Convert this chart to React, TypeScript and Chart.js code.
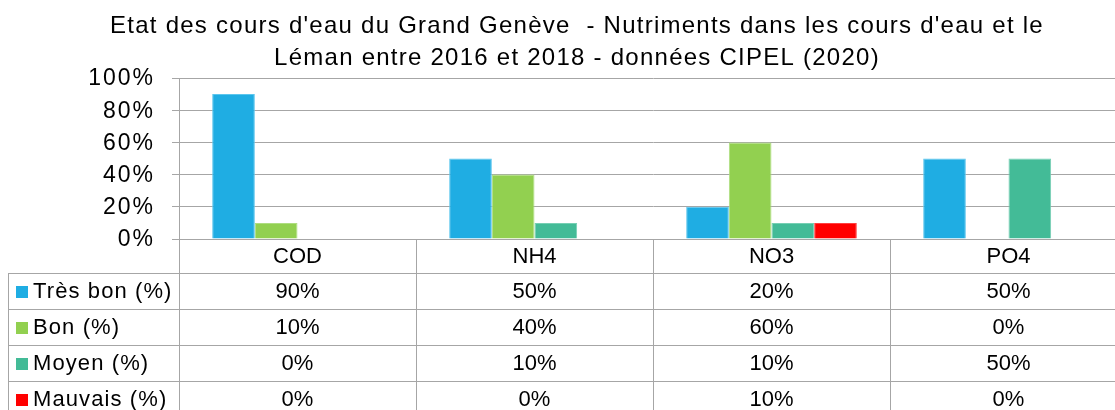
import React, { useEffect, useRef } from "react";
import { Chart, registerables } from "chart.js";

Chart.register(...registerables);

const titleLines = [
  "Etat des cours d'eau du Grand Genève  - Nutriments dans les cours d'eau et le",
  "Léman entre 2016 et 2018 - données CIPEL (2020)",
];
const categories = ["COD", "NH4", "NO3", "PO4"];
const seriesNames = ["Très bon (%)", "Bon (%)", "Moyen (%)", "Mauvais (%)"];
const tresBon = [90, 50, 20, 50];
const bon = [10, 40, 60, 0];
const moyen = [0, 10, 10, 50];
const mauvais = [0, 0, 10, 0];
const seriesColors = ["#1FADE3", "#92D050", "#43BB97", "#FF0000"];
const seriesBorders = ["#5CC6EE", "#AEDD80", "#76CFB3", "#FF4040"];
const yTicks = [0, 20, 40, 60, 80, 100];

const FONT = "'Liberation Sans', Arial, sans-serif";
const GRID = "#A6A6A6";

const tablePlugin = {
  id: "tablePlugin",
  afterDraw(chart: any) {
    const ctx = chart.ctx as any;
    const area = chart.chartArea;
    const xs = chart.scales.x;
    const ys = chart.scales.y;
    const n = categories.length;
    const colW = (area.right - area.left) / n;
    const top = area.bottom;
    const catH = 34;
    const rowH = 36;
    const tableLeft = 8;
    const rowLines: number[] = [];
    for (let i = 0; i <= seriesNames.length; i++) rowLines.push(top + catH + i * rowH);
    const bottom = rowLines[rowLines.length - 1];

    ctx.save();
    // title
    ctx.fillStyle = "#000";
    ctx.font = `24px ${FONT}`;
    ctx.letterSpacing = "1.25px";
    ctx.textAlign = "center";
    ctx.textBaseline = "alphabetic";
    ctx.fillText(titleLines[0], 577, 33);
    ctx.fillText(titleLines[1], 577, 65);

    // y tick labels
    ctx.font = `23px ${FONT}`;
    ctx.letterSpacing = "2px";
    ctx.textAlign = "right";
    ctx.textBaseline = "middle";
    yTicks.forEach((v) => {
      ctx.fillText(`${v}%`, area.left - 24, ys.getPixelForValue(v) + 1);
    });
    ctx.letterSpacing = "0px";

    // grid lines of table
    ctx.strokeStyle = GRID;
    ctx.lineWidth = 1;
    ctx.beginPath();
    rowLines.forEach((y) => {
      ctx.moveTo(tableLeft, Math.round(y) + 0.5);
      ctx.lineTo(chart.width, Math.round(y) + 0.5);
    });
    ctx.moveTo(tableLeft + 0.5, rowLines[0]);
    ctx.lineTo(tableLeft + 0.5, bottom);
    for (let i = 0; i <= n; i++) {
      const x = Math.round(area.left + i * colW) + 0.5;
      ctx.moveTo(x, top);
      ctx.lineTo(x, bottom);
    }
    ctx.stroke();

    // category labels
    ctx.font = `22px ${FONT}`;
    ctx.textBaseline = "middle";
    ctx.textAlign = "center";
    ctx.fillStyle = "#000";
    categories.forEach((c, i) => {
      ctx.fillText(c, xs.getPixelForValue(i), top + catH / 2 + 1);
    });

    // rows
    chart.data.datasets.forEach((ds: any, r: number) => {
      const cy = rowLines[r] + rowH / 2 + 1;
      ctx.fillStyle = seriesColors[r];
      ctx.fillRect(16, Math.round(cy - 6.5), 12, 12);
      ctx.fillStyle = "#000";
      ctx.textAlign = "left";
      ctx.letterSpacing = "1.1px";
      ctx.fillText(seriesNames[r], 33, cy);
      ctx.letterSpacing = "0px";
      ctx.textAlign = "center";
      ds.data.forEach((v: number, i: number) => {
        ctx.fillText(`${v}%`, xs.getPixelForValue(i), cy);
      });
    });
    ctx.restore();
  },
};

export default function App() {
  const ref = useRef<HTMLCanvasElement | null>(null);
  useEffect(() => {
    if (!ref.current) return;
    const values = [tresBon, bon, moyen, mauvais];
    const chart = new Chart(ref.current, {
      type: "bar",
      data: {
        labels: categories,
        datasets: values.map((d, i) => ({
          label: seriesNames[i],
          data: d,
          backgroundColor: seriesColors[i],
          borderColor: seriesBorders[i],
          borderWidth: 1,
          categoryPercentage: 0.72,
          barPercentage: 1,
        })),
      },
      options: {
        animation: false,
        responsive: false,
        devicePixelRatio: 1,
        layout: { padding: { left: 0, top: 78, right: 33, bottom: 181 } },
        plugins: {
          legend: { display: false },
          title: { display: false },
          tooltip: { enabled: false },
        },
        scales: {
          x: { display: false },
          y: {
            min: 0,
            max: 100,
            afterBuildTicks(scale: any) {
              scale.ticks = yTicks.map((v) => ({ value: v }));
            },
            afterFit(scale: any) {
              scale.width = 179;
            },
            ticks: { display: false },
            grid: { color: GRID, lineWidth: 1, tickLength: 7 },
            border: { color: GRID, width: 1 },
          },
        },
      },
      plugins: [tablePlugin],
    });
    return () => chart.destroy();
  }, []);
  return (
    <div style={{ position: "fixed", left: 0, top: 0, width: 1115, height: 410, overflow: "hidden", background: "#fff" }}>
      <canvas ref={ref} width={1160} height={420} style={{ position: "absolute", left: 0, top: 0, width: 1160, height: 420 }} />
    </div>
  );
}
